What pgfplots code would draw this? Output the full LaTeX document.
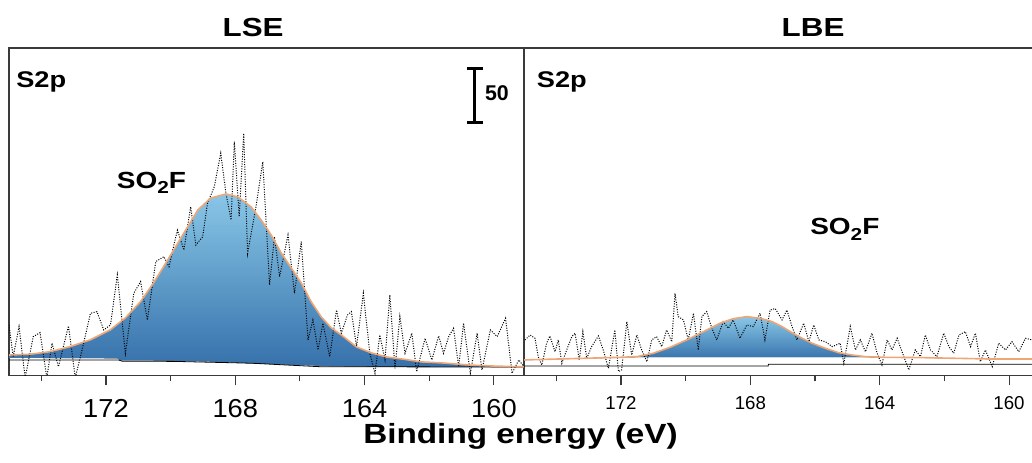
\documentclass[border=0pt]{standalone}
\usepackage{fontspec}
\setmainfont{Liberation Sans}
\newfontfamily\wfont[FakeStretch=1.2]{Liberation Sans}
\newfontfamily\tfont[FakeStretch=1.05]{Liberation Sans}
\usepackage{pgfplots}
\usepackage{pgfplotstable}
\pgfplotsset{compat=1.18}
\usepgfplotslibrary{fillbetween}
\definecolor{fitline}{HTML}{EFA676}
\definecolor{peaktop}{HTML}{96DAFF}
\definecolor{peakbot}{HTML}{3A7BBB}
\definecolor{frame}{HTML}{3A3A3A}

% raw S2p counts, LSE
\pgfplotstableread{
be cps
175.00 45.9
174.87 17.1
174.69 44.4
174.50 -2
174.25 35.3
174.04 38.9
173.83 -2
173.67 29.3
173.47 8
173.16 45
172.95 -2
172.74 23.2
172.48 56.5
172.28 58
172.07 41.4
171.86 45.9
171.65 91.4
171.40 20.2
171.14 74.7
170.93 85.3
170.72 50.5
170.46 103.5
170.21 108
170.05 98.9
169.90 118.6
169.79 132
169.59 114
169.38 153.4
169.22 118.6
169.01 126
168.86 156.5
168.65 171.6
168.45 202
168.29 165.6
168.13 141.4
168.03 212.5
167.88 144.4
167.74 220
167.62 111
167.36 153.4
167.15 194.3
166.94 82.3
166.79 126.2
166.63 89.8
166.37 127.7
166.17 74.7
165.96 121.6
165.75 32.3
165.60 50.5
165.44 23.2
165.29 47.5
165.08 17.1
164.87 59.5
164.72 38.4
164.53 55
164.41 58
164.25 26.2
164.04 74.7
163.84 20.2
163.68 2
163.53 36.8
163.37 14.1
163.22 73.2
163.06 6.5
162.91 53.5
162.75 20.2
162.54 38.4
162.39 3.5
162.13 33.8
161.92 14.1
161.71 35.9
161.56 20.2
161.40 35.3
161.25 42.9
161.09 8
160.94 47.5
160.73 2
160.52 38.4
160.37 5
160.11 41.4
159.90 35.3
159.64 52
159.44 2
159.23 14.1
159.07 8
}\rawLSE

% raw S2p counts, LBE
\pgfplotstableread{
be cps
174.97 32.3
174.81 36.8
174.66 33.8
174.56 17.1
174.45 9.5
174.30 29.3
174.20 35.9
174.04 21.6
173.94 32.3
173.83 11
173.68 23.2
173.52 35.3
173.42 38.4
173.29 14.1
173.18 39.8
173.06 15.6
172.91 26.2
172.70 35.9
172.55 23.2
172.39 6.5
172.19 41.4
172.08 3.5
171.98 5
171.82 49
171.67 18.6
171.51 36.8
171.36 23.2
171.20 12.5
171.05 32.3
170.90 35.3
170.74 26.2
170.59 41.4
170.43 30.7
170.33 74.7
170.23 53.5
170.07 50.5
169.92 32.3
169.76 56.5
169.61 23.2
169.50 53.5
169.35 58
169.19 42.9
169.04 32.3
168.84 49
168.68 42.9
168.53 50.5
168.32 33.8
168.11 45.9
167.91 44.4
167.70 56.5
167.55 32.3
167.39 59.5
167.23 60.8
167.02 50.5
166.87 59.5
166.71 44.4
166.56 32.3
166.35 47.5
166.19 30.7
166.04 45.9
165.88 32.3
165.68 30.7
165.47 26.2
165.22 29.3
165.11 11
164.91 44.4
164.75 23.2
164.60 32.3
164.44 21.6
164.24 38.4
164.08 20.2
163.93 9.5
163.77 32.3
163.62 23.2
163.46 33.8
163.31 21.6
163.10 5
162.90 23.2
162.74 17.1
162.59 36.8
162.43 23.2
162.23 17.1
162.02 38.4
161.86 26.2
161.71 20.2
161.55 36.8
161.35 39.8
161.19 26.2
161.04 38.4
160.89 12.5
160.73 23.2
160.52 8
160.32 29.3
160.11 23.2
159.91 30.7
159.70 21.6
159.49 33.8
159.29 32.3
}\rawLBE

\pgfplotsset{
  xps/.style={
    scale only axis, height=245.6pt,
    x dir=reverse, ymin=0, ymax=297.7,
    ytick=\empty,
    xtick={160,164,168,172}, minor xtick={162,166,170,174},
    tick align=outside, xtick pos=left,
    major tick length=7.5pt, minor tick length=4.5pt,
    every tick/.style={frame, line width=0.8pt},
    axis line style={frame, line width=0.9pt},
    /pgf/number format/assume math mode=true,
    clip mode=individual,
  },
  raw/.style={black, line width=0.75pt, dash pattern=on 0.75pt off 1.1pt},
  envelope/.style={fitline, line width=1.2pt},
  peakfill/.style={top color=peaktop, bottom color=peakbot, draw=none, opacity=0.9},
}

\begin{document}
\begin{tikzpicture}
\begin{axis}[xps, name=L, width=386.25pt,
  xmin=159.07, xmax=175,
  xticklabel style={font=\tfont\fontsize{19.5}{19.5}\selectfont, inner sep=0pt, anchor=north, yshift=-10.4pt},
]
\addplot[raw] table[x=be, y=cps] {\rawLSE};
\addplot[name path=envL, draw=none] coordinates {
  (175.00,18.6) (174.35,19.3) (173.73,21.6) (173.11,26.2) (172.49,32.3)
  (171.87,41.4) (171.40,52.3) (170.93,67.1) (170.53,84.1) (170.09,105.0)
  (169.59,129.5) (169.16,150.4) (168.76,161.3) (168.29,165.0) (167.92,162.3)
  (167.51,153.2) (167.20,141.3) (166.89,127.7) (166.58,111.4) (166.27,97.7)
  (165.96,84.1) (165.65,66.8) (165.34,53.2) (165.03,43.2) (164.72,36.8)
  (164.25,25.9) (163.79,20.5) (163.32,16.8) (162.85,15.0) (162.23,12.3)
  (161.61,11.4) (160.77,9.5) (160.06,8.6) (159.07,7.8)};
\addplot[name path=bgL, draw=none] coordinates {
  (175.00,16.0) (171.65,15.6) (171.55,13.8) (170.00,13.5) (168.50,12.5)
  (167.40,11.0) (166.00,9.5) (165.00,8.5) (163.50,8.0) (159.07,7.6)};
\addplot[peakfill] fill between[of=envL and bgL];
\addplot[black, line width=0.6pt] coordinates {
  (175.00,14.0) (171.60,14.0) (171.50,13.0) (169.90,12.8) (168.00,11.5)
  (167.40,11.0) (165.40,8.0) (159.07,7.6)};
\addplot[envelope] coordinates {
  (175.00,18.6) (174.35,19.3) (173.73,21.6) (173.11,26.2) (172.49,32.3)
  (171.87,41.4) (171.40,52.3) (170.93,67.1) (170.53,84.1) (170.09,105.0)
  (169.59,129.5) (169.16,150.4) (168.76,161.3) (168.29,165.0) (167.92,162.3)
  (167.51,153.2) (167.20,141.3) (166.89,127.7) (166.58,111.4) (166.27,97.7)
  (165.96,84.1) (165.65,66.8) (165.34,53.2) (165.03,43.2) (164.72,36.8)
  (164.25,25.9) (163.79,20.5) (163.32,16.8) (162.85,15.0) (162.23,12.3)
  (161.61,11.4) (160.77,9.5) (160.06,8.6) (159.07,7.8)};
% 50-count scale bar
\draw[black, line width=2.25pt] (axis cs:160.59,230.4) -- (axis cs:160.59,279.5);
\draw[black, line width=2.25pt] (axis cs:160.84,230.4) -- (axis cs:160.34,230.4);
\draw[black, line width=2.25pt] (axis cs:160.84,279.5) -- (axis cs:160.34,279.5);
\node[anchor=base west, inner sep=0pt, font=\bfseries\fontsize{16}{16}\selectfont]
  at (rel axis cs:0.924,0.841) {50};
\node[anchor=center, inner sep=0pt, font=\wfont\bfseries\fontsize{19.6}{19.6}\selectfont]
  at (rel axis cs:0.474,1.064) {LSE};
\node[anchor=base west, inner sep=0pt, font=\wfont\bfseries\fontsize{17}{17}\selectfont]
  at (rel axis cs:0.0136,0.88) {S2p};
\node[anchor=base west, inner sep=0pt, font=\wfont\bfseries\fontsize{17.5}{17.5}\selectfont]
  at (rel axis cs:0.209,0.572) {SO\raisebox{-0.45ex}{\fontsize{13}{13}\selectfont 2}F};
\end{axis}

\begin{axis}[xps, name=R, at={(L.south east)}, anchor=south west, width=381pt,
  xmin=159.29, xmax=175,
  axis x line=box, axis y line=left, y axis line style={-},
  xticklabel style={font=\fontsize{14}{14}\selectfont, inner sep=0pt, anchor=north, yshift=-7.9pt},
]
\addplot[raw] table[x=be, y=cps] {\rawLBE};
\addplot[name path=envR, draw=none] coordinates {
  (175.00,14.1) (172.03,16.5) (171.51,17.1) (171.00,20.2) (170.48,25.6)
  (169.97,32.3) (169.45,39.8) (168.94,47.5) (168.53,51.6) (168.11,53.5)
  (167.70,52.0) (167.33,49.0) (167.02,44.4) (166.71,38.9) (166.40,33.8)
  (166.09,29.3) (165.68,24.7) (165.27,20.7) (164.85,18.6) (164.44,17.1)
  (163.82,16.5) (162.69,16.2) (161.66,15.6) (160.63,15.0) (159.29,15.0)};
\addplot[name path=bgR, draw=none] coordinates {
  (175.00,14.0) (172.03,16.3) (171.51,16.6) (164.44,16.6) (163.82,16.4)
  (162.69,16.1) (161.66,15.5) (160.63,14.9) (159.29,14.9)};
\addplot[peakfill] fill between[of=envR and bgR];
\addplot[black, line width=0.6pt] coordinates {
  (175.00,8.6) (167.45,8.6) (167.44,10.2) (159.29,10.2)};
\addplot[envelope] coordinates {
  (175.00,14.1) (172.03,16.5) (171.51,17.1) (171.00,20.2) (170.48,25.6)
  (169.97,32.3) (169.45,39.8) (168.94,47.5) (168.53,51.6) (168.11,53.5)
  (167.70,52.0) (167.33,49.0) (167.02,44.4) (166.71,38.9) (166.40,33.8)
  (166.09,29.3) (165.68,24.7) (165.27,20.7) (164.85,18.6) (164.44,17.1)
  (163.82,16.5) (162.69,16.2) (161.66,15.6) (160.63,15.0) (159.29,15.0)};
\node[anchor=center, inner sep=0pt, font=\wfont\bfseries\fontsize{19.6}{19.6}\selectfont]
  at (rel axis cs:0.569,1.064) {LBE};
\node[anchor=base west, inner sep=0pt, font=\wfont\bfseries\fontsize{17}{17}\selectfont]
  at (rel axis cs:0.025,0.88) {S2p};
\node[anchor=base west, inner sep=0pt, font=\wfont\bfseries\fontsize{17.5}{17.5}\selectfont]
  at (rel axis cs:0.563,0.429) {SO\raisebox{-0.45ex}{\fontsize{13}{13}\selectfont 2}F};
\end{axis}

\node[anchor=north, inner sep=0pt, font=\wfont\bfseries\fontsize{20.8}{20.8}\selectfont]
  at (383.6pt,-36.1pt) {Binding energy (eV)};
\pgfresetboundingbox
\useasboundingbox (-6.75pt,-65.6pt) rectangle (767.25pt,281.6pt);
\end{tikzpicture}
\end{document}
